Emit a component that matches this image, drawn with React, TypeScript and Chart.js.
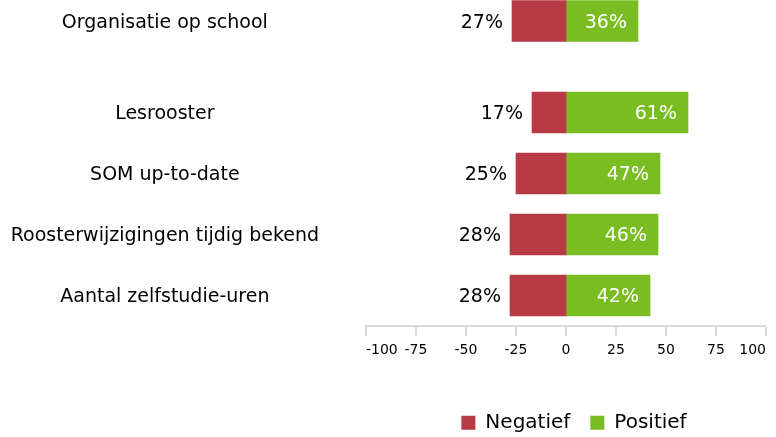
import React, { useEffect, useRef } from 'react';
import { Chart, registerables } from 'chart.js';

Chart.register(...registerables);

// Category slots (blank slots give the spacing seen in the reference)
const categories = [
  'Organisatie op school',
  '',
  '',
  'Lesrooster',
  '',
  'SOM up-to-date',
  '',
  'Roosterwijzigingen tijdig bekend',
  '',
  'Aantal zelfstudie-uren',
  '',
];
const negatief = [-27, null, null, -17, null, -25, null, -28, null, -28, null];
const positief = [36, null, null, 61, null, 47, null, 46, null, 42, null];
const xTicks = [-100, -75, -50, -25, 0, 25, 50, 75, 100];

const FONT = 'DejaVu Sans';
const RED = '#B83A44';
const GREEN = '#7ABD22';

const valueLabels = {
  id: 'valueLabels',
  afterDatasetsDraw(chart: any) {
    const ctx = chart.ctx;
    ctx.save();
    ctx.font = `19px "${FONT}"`;
    ctx.textBaseline = 'middle';
    ctx.textAlign = 'right';
    chart.data.datasets.forEach((ds: any, di: number) => {
      const meta = chart.getDatasetMeta(di);
      meta.data.forEach((bar: any, i: number) => {
        const v = ds.data[i];
        if (v == null) return;
        const text = Math.abs(v) + '%';
        if (v < 0) {
          ctx.fillStyle = '#000';
          ctx.fillText(text, Math.min(bar.x, bar.base) - 9, bar.y + 2);
        } else {
          ctx.fillStyle = '#fff';
          ctx.fillText(text, bar.x - 11, bar.y + 2);
        }
      });
    });
    ctx.restore();
  },
};

const legendShift = {
  id: 'legendShift',
  afterLayout(chart: any) {
    const l = chart.legend;
    if (!l) return;
    l.left += 8;
    l.right += 8;
    l.top += 28;
    l.bottom += 28;
  },
};

export default function App() {
  const ref = useRef<HTMLCanvasElement>(null);
  useEffect(() => {
    if (!ref.current) return;
    const chart = new Chart(ref.current, {
      type: 'bar',
      data: {
        labels: categories,
        datasets: [
          { label: 'Negatief', data: negatief as any, backgroundColor: RED, barThickness: 41, clip: false as any },
          { label: 'Positief', data: positief as any, backgroundColor: GREEN, barThickness: 41, clip: false as any },
        ],
      },
      options: {
        indexAxis: 'y',
        animation: false,
        responsive: true,
        maintainAspectRatio: false,
        layout: { padding: { top: 21, right: 10, bottom: 22.2, left: 0 } },
        scales: {
          x: {
            type: 'linear',
            min: -100,
            max: 100,
            stacked: true,
            afterBuildTicks: (s: any) => {
              s.ticks = xTicks.map((v) => ({ value: v }));
            },
            grid: {
              drawOnChartArea: false,
              drawTicks: true,
              tickLength: 10,
              lineWidth: 0,
              tickWidth: 2,
              tickColor: '#d9d9d9',
              color: '#d9d9d9',
            },
            border: { display: true, color: '#d9d9d9', width: 2 },
            ticks: { align: 'inner', padding: 6, color: '#000', autoSkip: false, maxRotation: 0, font: { family: FONT, size: 14 } },
          },
          y: {
            type: 'category',
            offset: false,
            stacked: true,
            grid: { display: false, drawTicks: false },
            border: { display: false },
            afterFit: (s: any) => {
              s.width = 366;
              s.paddingTop = 0;
              s.paddingBottom = 0;
            },
            ticks: {
              autoSkip: false,
              crossAlign: 'center',
              padding: 47,
              labelOffset: 2,
              color: '#000',
              font: { family: FONT, size: 19 },
            },
          },
        },
        plugins: {
          tooltip: { enabled: false },
          legend: {
            position: 'bottom',
            fullSize: false,
            labels: { boxWidth: 14, boxHeight: 14, padding: 20, color: '#000', font: { family: FONT, size: 20 } },
          },
        },
      } as any,
      plugins: [valueLabels, legendShift],
    });
    return () => chart.destroy();
  }, []);
  return (
    <div style={{ position: 'fixed', left: 0, top: 0, width: 776, height: 437 }}>
      <canvas ref={ref} />
    </div>
  );
}
